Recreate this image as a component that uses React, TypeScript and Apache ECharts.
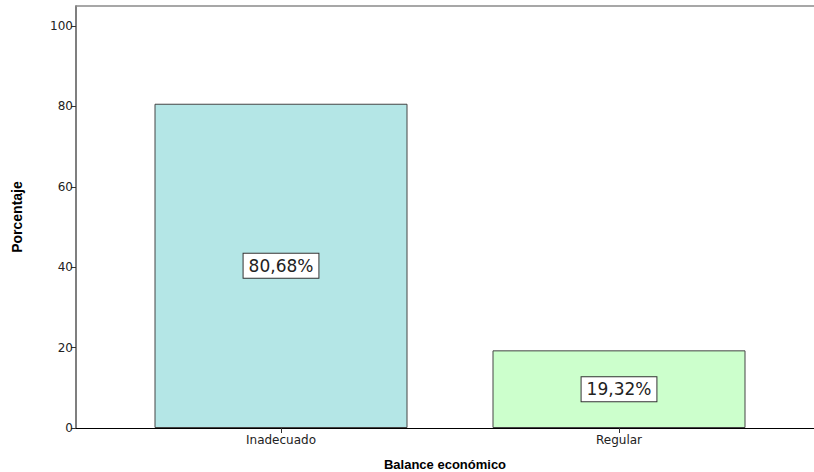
import React, { useEffect, useRef } from "react";
import * as echarts from "echarts";

const categories = ["Inadecuado", "Regular"];
const percentages = [80.68, 19.32];
const labels = ["80,68%", "19,32%"];
const barColors = ["#b4e6e6", "#ccffcc"];
const yTicks = { min: 0, max: 105, interval: 20 };

export default function App() {
  const ref = useRef<HTMLDivElement>(null);
  useEffect(() => {
    if (!ref.current) return;
    const chart = echarts.init(ref.current, undefined, { renderer: "svg" });
    chart.setOption({
      animation: false,
      backgroundColor: "#ffffff",
      grid: [
        { left: 76, right: 0, top: 6, bottom: 44, outerBoundsMode: "none", containLabel: false },
        { left: 112, right: 26, top: 6, bottom: 44, outerBoundsMode: "none", containLabel: false },
      ],
      xAxis: [
        {
          gridIndex: 0,
          type: "category",
          data: [""],
          position: "bottom",
          axisLine: { lineStyle: { color: "#000", width: 1 } },
          axisTick: { show: false },
          axisLabel: { show: false },
          name: "Balance económico",
          nameLocation: "middle",
          nameGap: 30,
          nameTextStyle: { fontFamily: "Liberation Sans", fontWeight: "bold", fontSize: 13, color: "#000" },
        },
        {
          gridIndex: 0,
          type: "category",
          data: [""],
          position: "top",
          axisLine: { lineStyle: { color: "#8a8a8a", width: 1.5 } },
          axisTick: { show: false },
          axisLabel: { show: false },
        },
        {
          gridIndex: 1,
          type: "category",
          data: categories,
          axisLine: { show: false },
          axisTick: { show: true, alignWithLabel: true, length: 5, lineStyle: { color: "#333" } },
          axisLabel: { fontFamily: "DejaVu Sans", fontSize: 12, color: "#222", margin: 6 },
        },
      ],
      yAxis: [
        {
          gridIndex: 0,
          type: "value",
          min: yTicks.min,
          max: yTicks.max,
          interval: yTicks.interval,
          axisLine: { show: true, lineStyle: { color: "#555", width: 1.5 } },
          axisTick: { show: true, length: 5, lineStyle: { color: "#333" } },
          axisLabel: { fontFamily: "DejaVu Sans", fontSize: 12, color: "#222", margin: 3, showMaxLabel: false },
          splitLine: { show: false },
          name: "Porcentaje",
          nameLocation: "middle",
          nameGap: 52,
          nameTextStyle: { fontFamily: "Liberation Sans", fontWeight: "bold", fontSize: 14, color: "#000" },
        },
        {
          gridIndex: 1,
          type: "value",
          min: yTicks.min,
          max: yTicks.max,
          show: false,
          splitLine: { show: false },
        },
      ],
      series: [
        {
          type: "bar",
          xAxisIndex: 2,
          yAxisIndex: 1,
          barWidth: 253,
          data: percentages.map((v, i) => ({
            value: v,
            itemStyle: { color: barColors[i], borderColor: "#444", borderWidth: 1 },
          })),
          label: {
            show: true,
            position: "inside",
            formatter: (p: any) => labels[p.dataIndex],
            fontFamily: "DejaVu Sans",
            fontSize: 17,
            color: "#222",
            backgroundColor: "#fff",
            borderColor: "#333",
            borderWidth: 1,
            padding: [3, 5, 2, 5],
            lineHeight: 19,
          },
        },
      ],
    });
    return () => chart.dispose();
  }, []);
  return (
    <div
      ref={ref}
      style={{ position: "fixed", left: 0, top: 0, width: 814, height: 472 }}
    />
  );
}
